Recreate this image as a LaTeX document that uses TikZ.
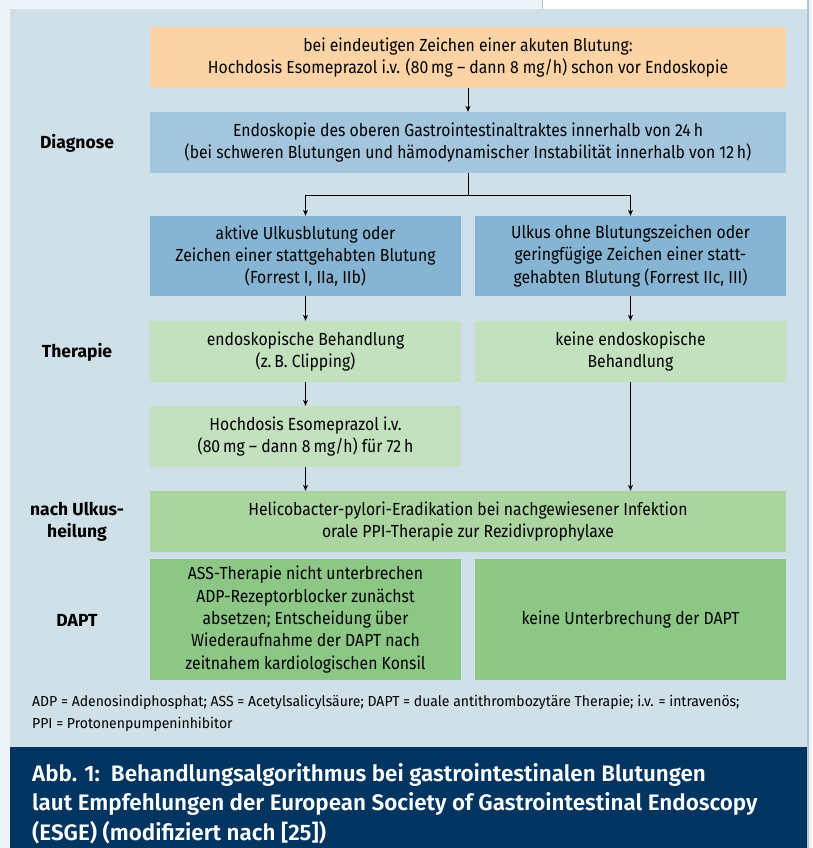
\documentclass[tikz,border=0pt]{standalone}
\usepackage{fontspec}
\setmainfont{Fira Sans}[FakeStretch=0.9]
\newfontfamily\lblfont{Fira Sans}
\newfontfamily\fnfont{Fira Sans}[FakeStretch=0.965]
\newfontfamily\capfont{Fira Sans SemiBold}
\usetikzlibrary{arrows.meta}
\definecolor{stripc}{HTML}{EEF3F7}
\definecolor{edgec}{HTML}{B4C3D2}
\definecolor{panelc}{HTML}{CFE0E8}
\definecolor{orangec}{HTML}{FBD3A4}
\definecolor{diagc}{HTML}{A3C6DE}
\definecolor{bluec}{HTML}{86B5D3}
\definecolor{lgreenc}{HTML}{C3E1BF}
\definecolor{mgreenc}{HTML}{AAD5A0}
\definecolor{dgreenc}{HTML}{8CC786}
\definecolor{navyc}{HTML}{003561}
\tikzset{
  box/.style={fill=#1, draw=none, inner sep=0pt, align=center,
    font=\fontsize{17.5}{22.3}\selectfont},
  wide/.style={minimum width=636pt},
  half/.style={minimum width=311pt},
  arr/.style={-{Stealth[length=6pt,width=5pt]}, line width=0.8pt, black},
  lbl/.style={align=center, inner sep=0pt, font=\lblfont\bfseries\fontsize{17.5}{22.5}\selectfont},
}
\begin{document}
\begin{tikzpicture}[x=1pt,y=-1pt]
\useasboundingbox (0,0) rectangle (812,848);
% backgrounds
\fill[stripc] (0,0) rectangle (812,848);
\fill[white] (542,0) rectangle (807,9);
\draw[edgec, line width=0.8pt] (542,0) -- (542,9);
\fill[panelc] (10,9) rectangle (807,747);
\fill[navyc] (10,747) rectangle (807,848);
\fill[edgec] (807,0) rectangle (808.5,848);
% boxes
\node[box=orangec, wide, minimum height=61pt] (top) at (468,57.5)
  {bei eindeutigen Zeichen einer akuten Blutung:\\Hochdosis Esomeprazol i.v. (80\,mg -- dann 8 mg/h) schon vor Endoskopie};
\node[box=diagc, wide, minimum height=61pt] (diag) at (468,142.5)
  {Endoskopie des oberen Gastrointestinaltraktes innerhalb von 24\,h\\(bei schweren Blutungen und hämodynamischer Instabilität innerhalb von 12\,h)};
\node[box=bluec, half, minimum height=80pt] (act) at (305.5,256)
  {aktive Ulkusblutung oder\\Zeichen einer stattgehabten Blutung\\(Forrest I, IIa, IIb)};
\node[box=bluec, half, minimum height=80pt] (noact) at (630.5,256)
  {Ulkus ohne Blutungszeichen oder\\geringfügige Zeichen einer statt-\\gehabten Blutung (Forrest IIc, III)};
\node[box=lgreenc, half, minimum height=61pt] (endo) at (305.5,351.5)
  {endoskopische Behandlung\\(z.\,B. Clipping)};
\node[box=lgreenc, half, minimum height=61pt] (noendo) at (630.5,351.5)
  {keine endoskopische\\Behandlung};
\node[box=lgreenc, half, minimum height=61pt] (hd) at (305.5,436.5)
  {Hochdosis Esomeprazol i.v.\\(80\,mg -- dann 8\,mg/h) für 72\,h};
\node[box=mgreenc, wide, minimum height=61pt] (hp) at (468,521.5)
  {Helicobacter-pylori-Eradikation bei nachgewiesener Infektion\\orale PPI-Therapie zur Rezidivprophylaxe};
\node[box=dgreenc, half, minimum height=121pt] (d1) at (305.5,619.5)
  {ASS-Therapie nicht unterbrechen\\ADP-Rezeptorblocker zunächst\\absetzen; Entscheidung über\\Wiederaufnahme der DAPT nach\\zeitnahem kardiologischen Konsil};
\node[box=dgreenc, half, minimum height=121pt] (d2) at (630.5,619.5)
  {keine Unterbrechung der DAPT};
% labels
\node[lbl] (l1) at (77,143) {Diagnose};
\node[lbl] (l2) at (77,352) {Therapie};
\node[lbl] (l3) at (77,522) {nach Ulkus-\\heilung};
\node[lbl] (l4) at (77,620) {DAPT};
% connectors
\draw[arr] (top.south) -- (diag.north);
\draw[line width=0.8pt] (diag.south) -- ++(0,22) coordinate (br);
\draw[arr] (br) -| (act.north);
\draw[arr] (br) -| (noact.north);
\draw[arr] (act.south) -- (endo.north);
\draw[arr] (noact.south) -- (noendo.north);
\draw[arr] (endo.south) -- (hd.north);
\draw[arr] (hd.south) -- (hd.south |- hp.north);
\draw[arr] (noendo.south) -- (noendo.south |- hp.north);
% footnote
\node[anchor=west, align=left, inner sep=0pt, font=\fnfont\fontsize{14.5}{22}\selectfont] (fn) at (32,713)
  {ADP = Adenosindiphosphat; ASS = Acetylsalicylsäure; DAPT = duale antithrombozytäre Therapie; i.v. = intravenös;\\PPI = Protonenpumpeninhibitor};
% caption
\node[anchor=west, align=left, inner sep=0pt, text=white, font=\capfont\fontsize{22.4}{29.5}\selectfont] (cap) at (32,803.5)
  {Abb. 1:\ \ Behandlungsalgorithmus bei gastrointestinalen Blutungen\\laut Empfehlungen der European Society of Gastrointestinal Endoscopy\\(ESGE) (modifiziert nach [25])};
\end{tikzpicture}
\end{document}
